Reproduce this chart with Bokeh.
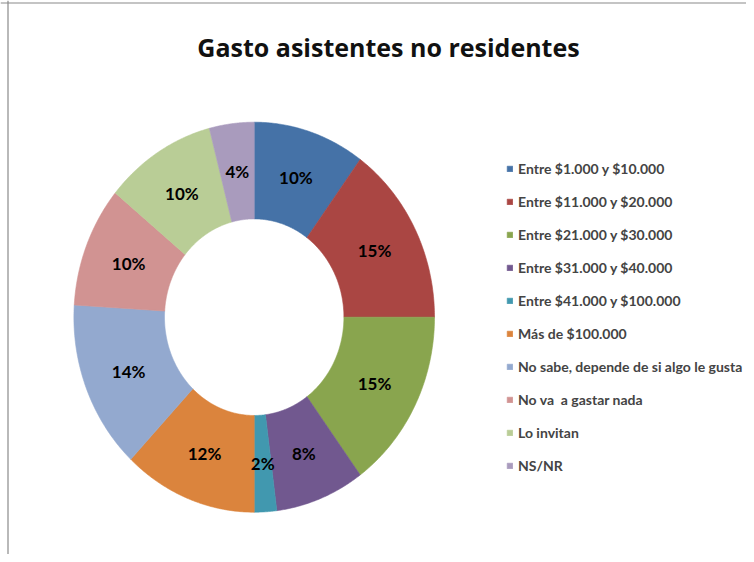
import numpy as np
from bokeh.plotting import figure
from bokeh.models import ColumnDataSource, Range1d, Legend, LegendItem, Label, Span
from bokeh.core.properties import value
from bokeh.embed import file_html
from bokeh.resources import INLINE

title = "Gasto asistentes no residentes"
categories = [
    "Entre $1.000 y $10.000",
    "Entre $11.000 y $20.000",
    "Entre $21.000 y $30.000",
    "Entre $31.000 y $40.000",
    "Entre $41.000 y $100.000",
    "Más de $100.000",
    "No sabe, depende de si algo le gusta",
    "No va  a gastar nada",
    "Lo invitan",
    "NS/NR",
]
percent = [10, 15, 15, 8, 2, 12, 14, 10, 10, 4]
colors = ["#4572A7", "#AA4643", "#89A54E", "#71588F", "#4198AF",
          "#DB843D", "#93A9CF", "#D19392", "#B9CD96", "#A99BBD"]

# layout (pixel coordinates of the figure)
W, H = 746, 554
CX, CY = 253.7, 316.7
RXO, RYO = 180.3, 195.0
RXI, RYI = 89.7, 98.3

vals = np.array(percent, dtype=float)
frac = vals / vals.sum()
ends = np.cumsum(frac) * 2 * np.pi
starts = ends - frac * 2 * np.pi

xs, ys, lx, ly = [], [], [], []
for a0, a1 in zip(starts, ends):
    t = np.linspace(a0, a1, 80)
    ox = CX + RXO * np.sin(t); oy = CY - RYO * np.cos(t)
    ix = CX + RXI * np.sin(t[::-1]); iy = CY - RYI * np.cos(t[::-1])
    xs.append(list(np.concatenate([ox, ix])))
    ys.append(list(np.concatenate([oy, iy])))
    m = (a0 + a1) / 2
    lx.append(CX + (RXO + RXI) / 2 * np.sin(m))
    ly.append(CY - (RYO + RYI) / 2 * np.cos(m))

src = ColumnDataSource(dict(xs=xs, ys=ys, color=colors, cat=categories))
lab = ColumnDataSource(dict(x=lx, y=ly, t=[f"{v}%" for v in percent]))

p = figure(width=W, height=H, x_range=Range1d(0, W), y_range=Range1d(H, 0),
           output_backend="svg", toolbar_location=None, min_border=0)
p.axis.visible = False
p.grid.visible = False
p.outline_line_color = None
p.background_fill_color = "white"
p.border_fill_color = "white"

r = p.patches("xs", "ys", source=src, fill_color="color", line_color="color", line_width=0.6)

p.text("x", "y", text="t", source=lab, text_font=value("Lato"), text_font_style="bold",
       text_font_size="17px", text_align="center", text_baseline="middle", text_color="black")

p.add_layout(Span(location=7.5, dimension="height", line_color="#8a8a8a", line_width=1.2))
p.add_layout(Span(location=2.5, dimension="width", line_color="#8a8a8a", line_width=1.2))

p.add_layout(Label(x=388, y=46, text=title, text_font="Open Sans", text_font_size="25px",
                   text_font_style="bold", text_align="center", text_baseline="alphabetic",
                   text_color="#111111"))

items = [LegendItem(label=c, renderers=[r], index=i) for i, c in enumerate(categories)]
legend = Legend(items=items, location=(506, 79), glyph_width=7, glyph_height=7,
                label_text_font="Lato", label_text_font_size="14px", label_text_font_style="bold",
                label_height=20, spacing=13, padding=0, margin=0, label_standoff=5,
                border_line_color=None, background_fill_alpha=0)
p.add_layout(legend, "center")

open("out.html", "w").write(file_html(p, INLINE))
